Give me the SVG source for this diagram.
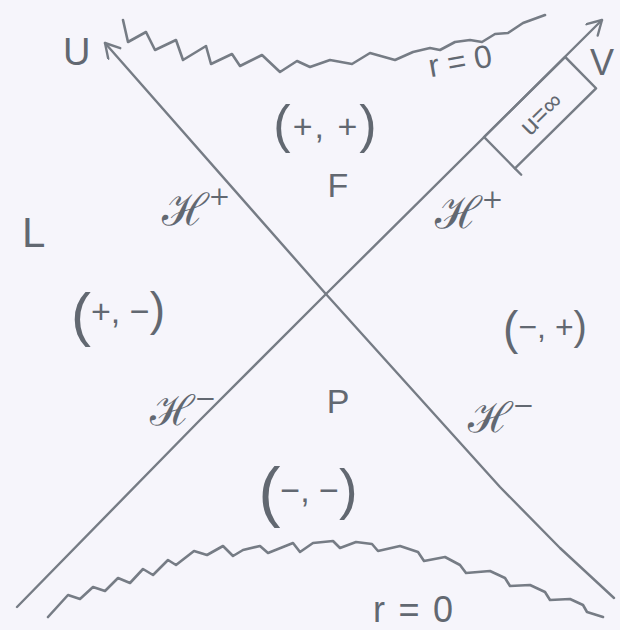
<svg xmlns="http://www.w3.org/2000/svg" width="620" height="630" viewBox="0 0 620 630">
  <style>
    .ln { fill: none; stroke: #767c85; stroke-width: 2.4; stroke-linecap: round; stroke-linejoin: round; }
    .wv { fill: none; stroke: #767c85; stroke-width: 2.6; stroke-linecap: round; stroke-linejoin: round; }
    .t { font-family: "Liberation Sans", "DejaVu Sans", sans-serif; fill: #626871; }
    .h { font-family: "DejaVu Serif", "Noto Sans", serif; font-style: italic; fill: #626871; }
  </style>
  <defs>
    <marker id="arr" markerUnits="userSpaceOnUse" markerWidth="20" markerHeight="20" refX="17" refY="9" orient="auto">
      <path d="M3,1 L17,9 L3,17" fill="none" stroke="#767c85" stroke-width="2.4" stroke-linecap="round" stroke-linejoin="round"/>
    </marker>
  </defs>
  <rect x="0" y="0" width="620" height="630" fill="#f6f5fb"/>

  <g id="connectors">
    <path id="U-axis" class="ln" d="M614,598 L560,548 L500,487 L325,293 L105,43" marker-end="url(#arr)"/>
    <path id="V-axis" class="ln" d="M17,607 L200,420 L325,295 L602,20" marker-end="url(#arr)"/>
  </g>

  <g id="singularity-top">
    <polyline class="wv" points="123,20 128,42 146,32 155,50 176,40 183,60 206,46 211,64 232,54 240,66 262,55 280,72 297,61 310,67 330,60 352,64 370,53 395,60 413,52 430,48 440,50 455,42 470,40 482,42 495,34 508,33 523,23 545,15"/>
    <text class="t" x="460" y="72" font-size="32" text-anchor="middle" textLength="64" transform="rotate(-10 460 60)">r=0</text>
  </g>

  <g id="singularity-bottom">
    <polyline class="wv" points="48,617 68,595 80,599 93,587 105,591 118,578 130,583 143,569 153,575 168,560 176,565 194,551 207,555 223,546 233,556 243,550 260,546 268,553 293,543 300,552 313,543 333,541 340,548 356,542 372,544 378,551 400,546 418,552 424,561 445,557 460,565 466,573 490,571 505,578 510,586 530,585 545,592 550,600 570,599 583,605 587,612 603,617"/>
    <text class="t" x="413" y="622" font-size="36" text-anchor="middle" textLength="80">r=0</text>
  </g>

  <g id="label-U"><text class="t" x="63" y="65" font-size="38">U</text></g>
  <g id="label-V"><text class="t" x="590" y="75" font-size="36">V</text></g>
  <g id="label-L"><text class="t" x="22" y="247" font-size="42">L</text></g>

  <g id="region-F">
    <text class="t" x="326" y="142" text-anchor="middle" letter-spacing="2"><tspan font-size="52">(</tspan><tspan font-size="34" dy="-4">+, +</tspan><tspan font-size="52" dy="4">)</tspan></text>
    <text class="t" x="338" y="197" font-size="34" text-anchor="middle">F</text>
  </g>

  <g id="region-P">
    <text class="t" x="338" y="413" font-size="34" text-anchor="middle">P</text>
    <text class="t" x="308" y="514" text-anchor="middle"><tspan font-size="66">(</tspan><tspan font-size="34" dy="-12">−, −</tspan><tspan font-size="56" dy="6">)</tspan></text>
  </g>

  <g id="region-left">
    <text class="t" x="118" y="335" text-anchor="middle"><tspan font-size="60">(</tspan><tspan font-size="34" dy="-12">+, −</tspan><tspan font-size="46" dy="2">)</tspan></text>
  </g>

  <g id="region-right">
    <text class="t" x="545" y="344" text-anchor="middle"><tspan font-size="46">(</tspan><tspan font-size="32" dy="-6">−, +</tspan><tspan font-size="40" dy="2">)</tspan></text>
  </g>

  <g id="horizon-labels">
    <text class="h" x="162" y="225" font-size="44">ℋ<tspan font-size="26" dy="-20">+</tspan></text>
    <text class="h" x="435" y="228" font-size="44">ℋ<tspan font-size="26" dy="-20">+</tspan></text>
    <text class="h" x="150" y="425" font-size="42">ℋ<tspan font-size="26" dy="-18">−</tspan></text>
    <text class="h" x="468" y="432" font-size="42">ℋ<tspan font-size="26" dy="-18">−</tspan></text>
  </g>

  <g id="box-u-inf" transform="translate(484,137) rotate(-44.6)">
    <rect x="0" y="0" width="114" height="44" fill="none" stroke="#767c85" stroke-width="2.4" stroke-linejoin="round"/>
    <line x1="0" y1="44" x2="0" y2="53" stroke="#767c85" stroke-width="2.4" stroke-linecap="round"/>
    <text class="t" x="57" y="32" font-size="26" text-anchor="middle">u=∞</text>
  </g>
</svg>
